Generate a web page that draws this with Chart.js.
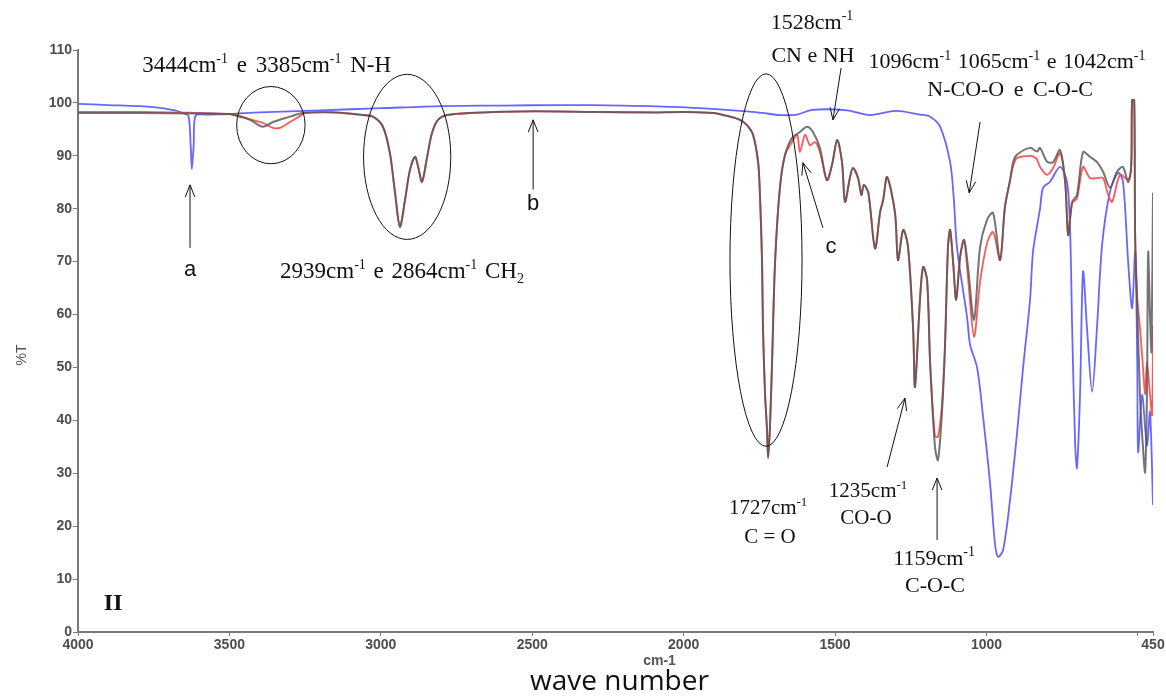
<!DOCTYPE html>
<html>
<head>
<meta charset="utf-8">
<script src="https://cdn.jsdelivr.net/npm/chart.js@4.4.1/dist/chart.umd.min.js"></script>
<style>
  html, body { margin: 0; padding: 0; background: #ffffff; }
  #wrap { position: relative; width: 1166px; height: 696px; }
  canvas { display: block; }
</style>
</head>
<body>
<div id="wrap"><canvas id="c" width="1166" height="696"></canvas></div>
<script>
// ---------------- DATA (wavenumber cm-1, %T) ----------------
const xTickValues = [4000, 3500, 3000, 2500, 2000, 1500, 1000, 500, 450];
const xTickLabels = ['4000', '3500', '3000', '2500', '2000', '1500', '1000', '', '450'];

const blueWn = [4000,3900,3750,3680,3650,3635,3628,3624,3618,3612,
  3580,3500,3400,3200,3000,2800,2600,2400,2200,2010,
  1790,1740,1680,1625,1575,1460,1385,1300,1220,1186,
  1153,1120,1108,1097,1064,1054,1031,1011,988,972,
  962,945,922,899,879,856,846,823,813,790,
  757,734,724,717,707,701,691,681,668,651,
  635,618,592,565,549,532,519,509,502,499,
  486,470,460,450];
const blueT = [99.8,99.6,99.2,98.6,98.0,97.5,92,87.5,92,97.6,
  97.8,97.9,98.2,98.6,99.0,99.4,99.5,99.6,99.5,99.2,
  98.4,98.1,97.7,97.8,98.7,98.6,97.7,98.5,97.8,97.4,
  95.5,88.8,82,72.5,59.5,54.3,50,40.6,28,16.8,
  14.2,15.5,25,37.6,50,62.8,72,80,84,85.1,
  87.9,85.1,76.4,57.5,35.3,31.0,44.8,68.1,57.5,45.4,
  57.5,73.2,83.2,86.8,85.1,69.9,61.2,71.8,51.0,34.0,
  44.8,35.3,41.6,24.0];

const grayWn = [4000,3800,3600,3500,3465,3432,3389,3356,3300,3257,
  3150,3059,3026,2993,2970,2953,2937,2920,2904,2887,
  2877,2864,2847,2831,2811,2781,2705,2500,2300,2100,
  2000,1903,1847,1814,1791,1771,1754,1748,1741,1738,
  1731,1725,1721,1715,1708,1698,1682,1665,1642,1616,
  1593,1573,1550,1527,1510,1493,1477,1467,1451,1441,
  1424,1413,1405,1390,1368,1351,1341,1328,1302,1292,
  1275,1259,1242,1236,1219,1209,1196,1186,1170,1160,
  1147,1137,1127,1120,1110,1100,1087,1074,1061,1041,
  1021,998,978,955,939,922,912,899,856,833,
  823,800,780,757,740,730,717,701,681,658,
  635,615,592,569,549,532,522,519,512,509,
  503,493,483,476,470,466,460,455,450];
const grayT = [98.1,98.1,98.0,97.9,97.4,96.8,95.5,96.4,97.4,98.1,
  98.2,97.7,97.4,95.5,90.5,83,76.6,81.7,87.3,89.8,
  88,85.1,89.8,94.3,96.8,97.7,98.1,98.4,98.3,98.2,
  98.3,98.1,97.4,96.8,95.8,94,88.8,82.6,70,57.5,
  44.8,38.6,32.9,38.6,51,70,84,90.2,93.4,94.5,
  95.5,94.5,91.5,85.4,88.3,93,88.8,81.3,85.8,87.7,
  85.8,82.6,84.5,83,72.5,79.4,81.7,86,79.2,70.3,
  76,72.8,57.1,46.3,63.3,69,66.5,50.9,35,32.5,
  41.4,53.9,72.8,76,69.8,62.8,70.9,74.1,69,59,
  72.8,77.9,79.2,70.3,80.3,85.4,88.8,90.2,91.5,90.8,
  91.5,88.9,88.8,91.1,85,75,81.3,82.6,90.7,89.8,
  88.8,87,84,87,87.9,85,88,100.5,100.5,75,
  63.7,44.8,34.8,30.2,44.8,71.8,60,53,83];

const redWn = [4000,3800,3600,3500,3465,3432,3389,3356,3333,3300,
  3267,3250,3150,3059,3026,2993,2970,2953,2937,2920,
  2904,2887,2877,2864,2847,2831,2811,2781,2705,2500,
  2300,2100,2000,1903,1847,1814,1791,1771,1754,1748,
  1741,1738,1731,1725,1721,1715,1708,1698,1682,1665,
  1642,1625,1616,1599,1583,1566,1550,1527,1510,1493,
  1477,1467,1451,1441,1424,1413,1405,1390,1368,1351,
  1341,1328,1302,1292,1275,1259,1242,1236,1219,1209,
  1196,1186,1170,1160,1147,1137,1127,1120,1110,1100,
  1087,1074,1061,1041,1021,998,978,955,939,922,
  912,899,856,846,833,823,800,780,757,740,
  730,717,701,681,658,635,615,598,585,559,
  532,522,519,512,509,503,493,483,476,470,460,453,450];
const redT = [98.3,98.3,98.1,97.9,97.5,96.9,96.2,95.3,95.3,96.4,
  97.5,98.1,98.2,97.7,97.4,95.5,90.5,83,76.6,81.7,
  87.3,89.8,88,85.1,89.8,94.3,96.8,97.7,98.1,98.4,
  98.3,98.2,98.3,98.1,97.4,96.8,95.8,94,88.8,82.6,
  70,57.5,44.8,38.6,32.9,38.6,51,70,84,90.2,
  92.6,94,90.7,94,92,92.6,90.7,85.4,88.3,93,
  88.8,81.3,85.8,87.7,85.8,82.6,84.5,83,72.5,79.4,
  81.7,86,79.2,70.3,76,72.8,57.1,46.3,63.3,69,
  66.5,50.9,37,36.9,43,53.9,72.8,76,69.8,62.8,
  70.9,74.1,67,55.8,66.2,73.5,75.6,70.3,80.3,85.4,
  88,89.6,90,89.9,89.3,87.9,86.4,87.7,90.5,85,
  75,81,82,87.9,85.8,85.8,85.8,82.6,81.3,86.4,
  85.5,88,100.5,100.5,75,63.7,57.5,50,45,51,45,41,58];

function pts(xs, ys) { return xs.map((x, i) => ({ x: x, y: ys[i] })); }

// ---------------- ANNOTATIONS (in data coordinates) ----------------
const SERIF = '"Liberation Serif", "Times New Roman", serif';
const SANS = '"Liberation Sans", Arial, sans-serif';
const texts = [
  { wn: 3377, t: 105.9, size: 23, sp: 3, font: SERIF, parts: [['3444cm'], ['-1', 1], [' e 3385cm'], ['-1', 1], [' N-H']] },
  { wn: 2930, t: 66.9, size: 23, sp: 2, font: SERIF, parts: [['2939cm'], ['-1', 1], [' e 2864cm'], ['-1', 1], [' CH'], ['2', 2]] },
  { wn: 1576, t: 114.0, size: 22, font: SERIF, parts: [['1528cm'], ['-1', 1]] },
  { wn: 1573, t: 107.8, size: 22, font: SERIF, parts: [['CN e NH']] },
  { wn: 932, t: 106.6, size: 22, sp: 1, font: SERIF, parts: [['1096cm'], ['-1', 1], [' 1065cm'], ['-1', 1], [' e 1042cm'], ['-1', 1]] },
  { wn: 922, t: 101.3, size: 22, sp: 4, font: SERIF, parts: [['N-CO-O e C-O-C']] },
  { wn: 1721, t: 22.3, size: 21, font: SERIF, parts: [['1727cm'], ['-1', 1]] },
  { wn: 1715, t: 16.8, size: 21, font: SERIF, parts: [['C = O']] },
  { wn: 1391, t: 25.5, size: 21, font: SERIF, parts: [['1235cm'], ['-1', 1]] },
  { wn: 1398, t: 20.4, size: 21, font: SERIF, parts: [['CO-O']] },
  { wn: 1173, t: 12.7, size: 22, font: SERIF, parts: [['1159cm'], ['-1', 1]] },
  { wn: 1170, t: 7.6, size: 22, font: SERIF, parts: [['C-O-C']] },
  { wn: 3630, t: 67.3, size: 22, font: SANS, parts: [['a']] },
  { wn: 2497, t: 79.8, size: 22, font: SANS, parts: [['b']] },
  { wn: 1513, t: 71.6, size: 22, font: SANS, parts: [['c']] },
  { wn: 3884, t: 4.2, size: 24, font: SERIF, bold: true, parts: [['II']] }
];
const ellipses = [
  { wn: 3363, t: 95.8, rw: 113, rt: 7.3 },
  { wn: 2913, t: 89.8, rw: 144, rt: 15.6 },
  { wn: 1728, t: 70.3, rw: 119, rt: 35.2 }
];
const arrows = [
  { from: [3630, 72.6], to: [3630, 84.5] },
  { from: [2497, 83.6], to: [2497, 96.8] },
  { from: [1480, 106.6], to: [1507, 96.8] },
  { from: [1021, 96.4], to: [1057, 83.0] },
  { from: [1540, 76.4], to: [1606, 88.7] },
  { from: [1328, 31.2], to: [1269, 44.2] },
  { from: [1163, 17.4], to: [1163, 29.1] }
];

function drawRich(ctx, item, px, py) {
  const size = item.size;
  const small = Math.round(size * 0.62);
  const weight = item.bold ? 'bold ' : '';
  const sp = item.sp || 0;
  const segs = [];
  item.parts.forEach(p => {
    const mode = p[1] || 0;
    const fs = mode ? small : size;
    ctx.font = weight + fs + 'px ' + item.font;
    p[0].split(/( )/).forEach(tok => {
      if (tok === '') return;
      let w = ctx.measureText(tok).width;
      if (tok === ' ') w += sp;
      segs.push({ text: tok, mode: mode, fs: fs, w: w });
    });
  });
  const total = segs.reduce((a, s) => a + s.w, 0);
  let x = px - total / 2;
  ctx.fillStyle = '#111111';
  ctx.textBaseline = 'alphabetic';
  ctx.textAlign = 'left';
  segs.forEach(s => {
    ctx.font = weight + s.fs + 'px ' + item.font;
    let dy = 0;
    if (s.mode === 1) dy = -size * 0.38;
    if (s.mode === 2) dy = size * 0.22;
    if (s.text !== ' ') ctx.fillText(s.text, x, py + dy);
    x += s.w;
  });
}

const annotationPlugin = {
  id: 'ftirAnnotations',
  afterDraw(chart) {
    const ctx = chart.ctx;
    const xs = chart.scales.x, ys = chart.scales.y;
    const X = v => xs.getPixelForValue(v);
    const Y = v => ys.getPixelForValue(v);
    ctx.save();
    ctx.strokeStyle = '#111111';
    ctx.lineWidth = 1;
    ellipses.forEach(e => {
      const cx = X(e.wn), cy = Y(e.t);
      const rx = Math.abs(X(e.wn + e.rw) - cx);
      const ry = Math.abs(Y(e.t + e.rt) - cy);
      ctx.beginPath();
      ctx.ellipse(cx, cy, rx, ry, 0, 0, Math.PI * 2);
      ctx.stroke();
    });
    arrows.forEach(a => {
      const x1 = X(a.from[0]), y1 = Y(a.from[1]);
      const x2 = X(a.to[0]), y2 = Y(a.to[1]);
      const ang = Math.atan2(y2 - y1, x2 - x1);
      const hl = 13, ha = 0.38;
      ctx.beginPath();
      ctx.moveTo(x1, y1); ctx.lineTo(x2, y2);
      ctx.moveTo(x2 - hl * Math.cos(ang - ha), y2 - hl * Math.sin(ang - ha));
      ctx.lineTo(x2, y2);
      ctx.lineTo(x2 - hl * Math.cos(ang + ha), y2 - hl * Math.sin(ang + ha));
      ctx.stroke();
    });
    texts.forEach(t => drawRich(ctx, t, X(t.wn), Y(t.t)));
    ctx.fillStyle = '#555555';
    ctx.textAlign = 'center';
    ctx.textBaseline = 'middle';
    ctx.font = 'bold 14px ' + SANS;
    ctx.fillText('cm-1', (xs.left + xs.right) / 2 + 44, 661);
    ctx.fillStyle = '#111111';
    ctx.font = '28px "Open Sans", ' + SANS;
    ctx.fillText('wave number', (xs.left + xs.right) / 2 + 4, 682);
    ctx.save();
    ctx.translate(22, 355);
    ctx.rotate(-Math.PI / 2);
    ctx.fillStyle = '#555555';
    ctx.font = '14px ' + SANS;
    ctx.fillText('%T', 0, 0);
    ctx.restore();
    ctx.restore();
  }
};

const tickFont = { family: '"Liberation Sans", Arial, sans-serif', size: 14, weight: 'bold' };

new Chart(document.getElementById('c'), {
  type: 'line',
  data: {
    datasets: [
      { label: 'gray', data: pts(grayWn, grayT), borderColor: 'rgba(85,85,85,0.82)', borderWidth: 2, pointRadius: 0, tension: 0.3, fill: false },
      { label: 'red', data: pts(redWn, redT), borderColor: 'rgba(255,70,70,0.9)', borderWidth: 1.8, pointRadius: 0, tension: 0.3, fill: false },
      { label: 'blue', data: pts(blueWn, blueT), borderColor: 'rgba(95,95,255,0.95)', borderWidth: 1.8, pointRadius: 0, tension: 0.3, fill: false }
    ]
  },
  options: {
    responsive: false,
    animation: false,
    layout: { padding: { top: 50, right: 13, left: 0, bottom: 0 } },
    plugins: { legend: { display: false }, tooltip: { enabled: false } },
    scales: {
      x: {
        type: 'linear', reverse: true, min: 450, max: 4000,
        afterBuildTicks(scale) { scale.ticks = xTickValues.map(v => ({ value: v })); },
        afterFit(scale) { scale.height = 64; },
        ticks: {
          autoSkip: false, maxRotation: 0, color: '#4d4d4d', font: tickFont, padding: 1,
          callback: (v) => { const i = xTickValues.indexOf(v); return i >= 0 ? xTickLabels[i] : ''; }
        },
        grid: { display: true, drawOnChartArea: false, drawTicks: true, tickLength: 4, color: '#7a7a7a', lineWidth: 1 },
        border: { display: true, color: '#7a7a7a', width: 2 }
      },
      y: {
        min: 0, max: 110,
        afterFit(scale) { scale.width = 78; },
        ticks: { stepSize: 10, color: '#4d4d4d', font: tickFont, padding: 1 },
        grid: { display: true, drawOnChartArea: false, drawTicks: true, tickLength: 5, color: '#7a7a7a', lineWidth: 1 },
        border: { display: true, color: '#7a7a7a', width: 2 }
      }
    }
  },
  plugins: [annotationPlugin]
});
</script>
</body>
</html>
